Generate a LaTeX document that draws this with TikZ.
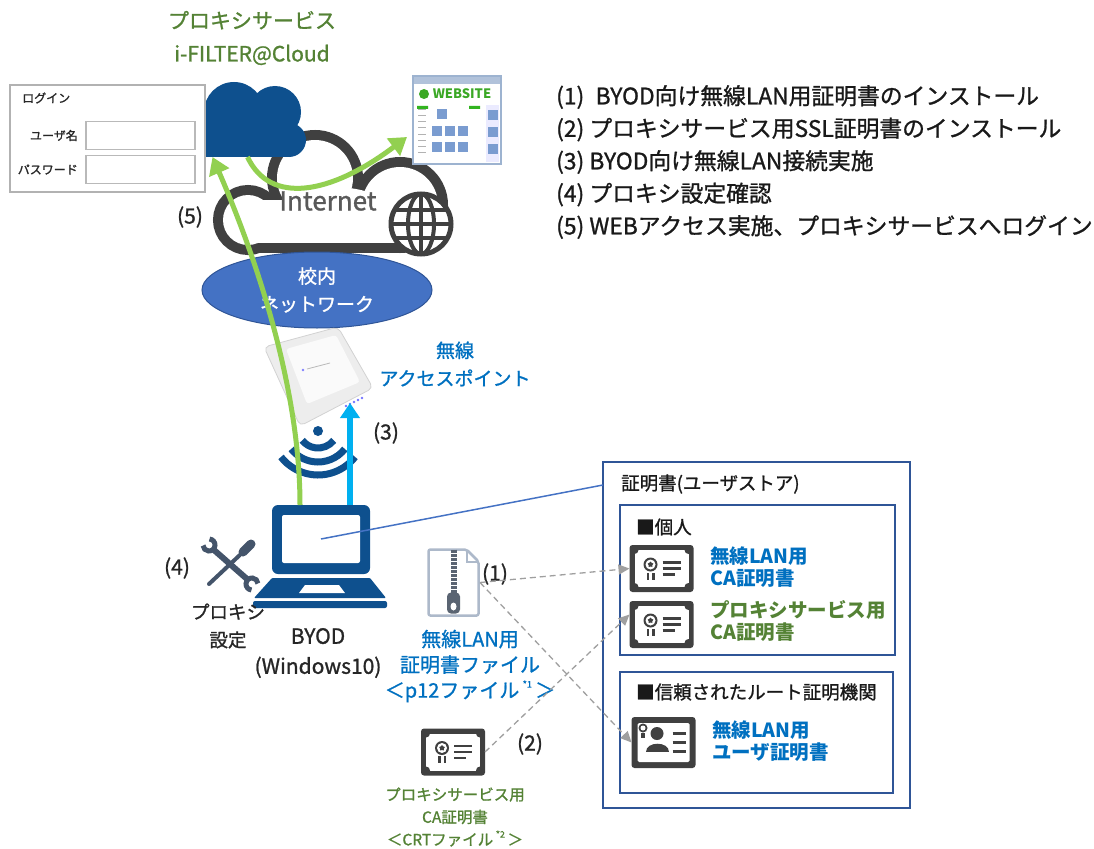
\documentclass[tikz,border=0pt]{standalone}
\usepackage{fontspec}
\setmainfont{Noto Sans CJK JP}[UprightFeatures={FakeBold=1.1}]
\usetikzlibrary{positioning,arrows.meta,shapes.geometric}

\definecolor{txtgreen}{RGB}{84,130,53}
\definecolor{txtblue}{RGB}{0,112,192}
\definecolor{flowgreen}{RGB}{146,208,80}
\definecolor{flowcyan}{RGB}{0,176,240}
\definecolor{iconblue}{RGB}{14,80,142}
\definecolor{netblue}{RGB}{68,114,196}
\definecolor{frameblue}{RGB}{47,85,151}
\definecolor{certgray}{RGB}{64,64,64}
\definecolor{cloudgray}{RGB}{64,64,64}
\definecolor{toolgray}{RGB}{68,84,106}
\definecolor{zipline}{RGB}{173,185,202}
\definecolor{zipdark}{RGB}{90,100,114}
\definecolor{webframe}{RGB}{157,179,208}
\definecolor{webtile}{RGB}{122,156,208}

\newcommand{\fs}[2]{\fontsize{#1}{#2}\selectfont}
\newcommand{\noteref}[1]{\raisebox{0.5em}{\fs{9}{9}#1}}

\tikzset{
  lbl/.style={inner sep=0pt, align=center, text=black!85, font=\fs{21}{28}},
  bluelbl/.style={lbl, text=txtblue},
  greenlbl/.style={lbl, text=txtgreen},
  storelbl/.style={inner sep=0pt, align=left, anchor=west, font=\bfseries\fs{19.5}{22}},
  storettl/.style={inner sep=0pt, anchor=west, text=black!90, font=\fs{18.5}{22}},
  iconslot/.style={inner sep=0pt, outer sep=0pt},
  storebox/.style={draw=frameblue, line width=1.8pt, iconslot},
  inputbox/.style={draw=gray!55, line width=1.4pt, iconslot, minimum width=109pt, minimum height=28pt},
  greenflow/.style={draw=flowgreen, line width=5pt, -{Triangle[length=17pt,width=21pt]}},
  wififlow/.style={draw=flowcyan, line width=6pt, -{Triangle[length=15pt,width=19pt]}},
  dasharrow/.style={draw=gray!75, line width=1.3pt, dash pattern=on 6pt off 4pt, -{Triangle[length=11pt,width=10pt]}},
  linkline/.style={draw=netblue, line width=1.5pt},
  % certificate with medal and text lines
  certicon/.pic={
    \fill[certgray, rounded corners=3pt] (-32,-23.5) rectangle (32,23.5);
    \fill[white] (-27,-18.5) rectangle (27,18.5);
    \foreach \sx/\sy in {-27/-18.5,27/-18.5,-27/18.5,27/18.5}
      \fill[certgray] (\sx,\sy) circle (4);
    \fill[certgray] (-11,-4) circle (7);
    \fill[white] (-11,-4) circle (5);
    \node[star, star points=5, fill=certgray, minimum size=6pt, inner sep=0pt] at (-11,-4) {};
    \fill[certgray] (-15,4) rectangle (-12.5,11);
    \fill[certgray] (-9.5,4) rectangle (-7,11);
    \draw[certgray, line width=2.5pt] (1,-6) -- (19,-6) (1,0) -- (19,0) (1,6) -- (13,6);
  },
  % certificate with a person
  usercerticon/.pic={
    \fill[certgray, rounded corners=3pt] (-32,-25.5) rectangle (32,25.5);
    \fill[white, rounded corners=1.5pt] (-26,-19.5) rectangle (26,19.5);
    \fill[certgray] (-20.5,-14.5) circle (4.5);
    \fill[white] (-20.5,-14.5) circle (2.5);
    \fill[certgray] (-22.5,-10) rectangle (-18.5,-5);
    \fill[certgray] (-6.5,-9) circle (6.5);
    \fill[certgray] (-18,9) .. controls (-18,-2) and (5,-2) .. (5,9) -- cycle;
    \draw[certgray, line width=2.5pt] (9,-9) -- (22,-9) (9,0) -- (22,0) (9,9) -- (22,9);
  },
  % zipped document
  zipicon/.pic={
    \draw[zipline, line width=2.5pt, rounded corners=2pt] (-25,-33) -- (13,-33) -- (25,-21) -- (25,33) -- (-25,33) -- cycle;
    \draw[zipline, line width=2pt] (13,-33) -- (13,-21) -- (25,-21);
    \draw[zipdark, line width=6pt] (0,-33) -- (0,12);
    \foreach \zy in {-29,-25,...,7}
      \draw[white, line width=1.2pt] (-3,\zy) -- (3,\zy);
    \fill[zipdark, rounded corners=4pt] (-6.5,10) rectangle (6.5,31);
    \fill[white] (0,24) ellipse (3 and 4);
  },
}

\begin{document}
\begin{tikzpicture}[x=1pt, y=-1pt]
\useasboundingbox (0,0) rectangle (1094,848);

% internet cloud: thick outline from overlapping circles
\foreach \cx/\cy/\r in {248/220/25, 315/178/38, 400/205/38}
  \draw[cloudgray, line width=20pt] (\cx,\cy) circle (\r);
\draw[cloudgray, line width=10pt] (248,248) -- (400,248);
\foreach \cx/\cy/\r in {248/220/25, 315/178/38, 400/205/38}
  \fill[white] (\cx,\cy) circle (\r);
\fill[white] (248,200) rectangle (400,243);
\fill[white] (332,205) ellipse (52 and 18);
\node[lbl, text=black!65, font=\fs{26}{28}] (inet) at (328,201) {Internet};

% globe
\begin{scope}
  \fill[white] (421,224) circle (30);
  \clip (421,224) circle (30);
  \draw[cloudgray, line width=4pt] (421,224) ellipse (13 and 30);
  \draw[cloudgray, line width=4pt] (421,194) -- (421,254);
  \foreach \dy in {-14,0,14}
    \draw[cloudgray, line width=4pt] (391,224+\dy) -- (451,224+\dy);
\end{scope}
\draw[cloudgray, line width=5pt] (421,224) circle (30);

% proxy service cloud
\node[iconslot, minimum width=101pt, minimum height=75pt] (cloudsvc) at (255.5,119.5) {};
\foreach \cx/\cy/\r in {234/112/30, 275/112/26, 289/140/17}
  \fill[iconblue] (\cx,\cy) circle (\r);
\fill[iconblue] (205,112) rectangle (289,157);
\node[greenlbl, font=\fs{21}{33}] (svcname) at (252,38) {プロキシサービス\\i-FILTER@Cloud};

% login dialog
\node[iconslot, draw=gray!60, line width=1.5pt, fill=white, minimum width=195pt, minimum height=107pt] (login) at (107.5,138.5) {};
\node[lbl, font=\fs{12}{13}, anchor=west] (loginttl) at (22,98) {ログイン};
\node[inputbox] (userbox) at (140.5,135.5) {};
\node[inputbox] (passbox) at (140.5,169.5) {};
\node[lbl, font=\fs{12}{13}, anchor=east] (userlbl) at (78,135.5) {ユーザ名};
\node[lbl, font=\fs{12}{13}, anchor=east] (passlbl) at (78,169.5) {パスワード};

% website
\node[iconslot, draw=webframe, line width=2pt, fill=white, minimum width=88pt, minimum height=88pt] (web) at (457,120) {};
\fill[webframe!80] (414,77) rectangle (500,84);
\fill[blue!8] (486,105) rectangle (499,162);
\fill[txtgreen!70!green] (424,94) circle (5);
\node[inner sep=0pt, text=txtgreen!70!green, font=\bfseries\fs{13}{13}] (webtitle) at (462,94) {WEBSITE};
\foreach \tx/\ty in {437/109, 432/126, 445/126, 458/126, 432/142, 445/142, 458/142, 488/110, 488/127, 488/144}
  \fill[webtile] (\tx,\ty) rectangle ++(10,10);
\foreach \ty in {110,116,122,128,134,140,146,152}
  \draw[gray!60, line width=1pt] (418,\ty) -- (426,\ty);
\fill[txtgreen!60!green] (417,106) rectangle (428,109) (469,106) rectangle (480,109);

% campus network
\node[ellipse, fill=netblue, draw=frameblue, line width=1pt, minimum width=230pt, minimum height=76pt,
  text=white, align=center, font=\fs{19}{28}, inner sep=0pt] (net) at (317,290) {校内\\ネットワーク};

% access point
\node[iconslot, minimum width=108pt, minimum height=98pt] (ap) at (318,376) {};
\fill[gray!14, rounded corners=5pt] (264,347) -- (338,327) -- (373,388) -- (300,426) -- cycle;
\draw[gray!35, line width=0.8pt, rounded corners=5pt] (264,347) -- (338,327) -- (373,388) -- (300,426) -- cycle;
\fill[gray!4, rounded corners=3pt] (286,349) -- (336,335) -- (360,382) -- (307,404) -- cycle;
\fill[blue!50] (303,370) circle (1.3);
\draw[gray!55, line width=0.8pt] (307,369) -- (330,363);
\foreach \i in {0,...,4}
  \fill[blue!55] (362-4*\i,398+2*\i) circle (1.3);
\node[bluelbl, font=\fs{19}{28}] (aplbl) at (455,364) {無線\\アクセスポイント};

% laptop
\node[iconslot, minimum width=134pt, minimum height=103pt] (laptop) at (320,556.5) {};
\fill[iconblue, rounded corners=6pt] (272,505) rectangle (370,574);
\node[iconslot, fill=white, rounded corners=2pt, minimum width=78pt, minimum height=48pt] (screen) at (321,539) {};
\fill[iconblue, rounded corners=1pt] (272,578) -- (370,578) -- (386,598) -- (254,598) -- cycle;
\fill[white] (305,585) -- (339,585) -- (345,593) -- (299,593) -- cycle;
\fill[iconblue, rounded corners=2pt] (253,601) rectangle (387,608);
\node[lbl, font=\fs{21}{30}] (byod) at (318,653) {BYOD\\(Windows10)};

% wireless signal
\fill[iconblue] (318,431) circle (5);
\foreach \r in {20,34,47}
  \draw[iconblue, line width=7pt] (318,428) ++(38:\r) arc (38:142:\r);

% tools
\draw[toolgray, line width=6pt, line cap=round] (214,550) -- (247,579);
\draw[toolgray, line width=5pt] (209,545) ++(275:6) arc (275:535:6);
\draw[toolgray, line width=5pt] (252,584) ++(95:6) arc (95:355:6);
\draw[toolgray, line width=4pt, line cap=round] (242,553) -- (209,584);
\draw[toolgray, line width=9pt, line cap=round] (251,544) -- (243,552);
\node[lbl] (n4) at (177,568) {(4)};
\node[lbl, font=\fs{18.5}{28}] (proxyset) at (228,626) {プロキシ\\設定};

% flows
\draw[greenflow] ([xshift=-20pt]laptop.north) .. controls (300,390) and (258,262) .. ([xshift=-43pt]cloudsvc.south);
\draw[greenflow] ([xshift=-8pt]cloudsvc.south) .. controls (270,205) and (330,195) .. ([shift={(-6pt,-17pt)}]web.west);
\coordinate (aplink) at (350,403);
\draw[wififlow] ([xshift=30pt]laptop.north) -- (aplink);
\node[lbl] (n5) at (190,217) {(5)};
\node[lbl] (n3) at (386,433) {(3)};

% certificate files
\node[iconslot, minimum width=53pt, minimum height=69pt] (p12file) at (453.5,582.5) {};
\pic at (p12file) {zipicon};
\node[lbl] (n1) at (495,574) {(1)};
\node[bluelbl, font=\fs{20}{25.5}] (p12lbl) at (470,666) {無線LAN用\\証明書ファイル\\＜p12ファイル\,\noteref{*1}\,＞};
\node[iconslot, minimum width=64pt, minimum height=47pt] (crtfile) at (453,752) {};
\pic at (crtfile) {certicon};
\node[lbl] (n2) at (530,744) {(2)};
\node[greenlbl, font=\fs{15.5}{22.5}] (crtlbl) at (455,817) {プロキシサービス用\\CA証明書\\＜CRTファイル\,\noteref{*2}\,＞};

% user certificate store
\node[storebox, minimum width=307pt, minimum height=346pt] (store) at (756.5,635) {};
\node[storettl] (storename) at (621,484) {証明書(ユーザストア)};
\node[storebox, minimum width=275pt, minimum height=150pt] (personal) at (757.5,580) {};
\node[storettl] (personalttl) at (636,527) {■個人};
\node[storebox, minimum width=273pt, minimum height=121pt] (rootca) at (756.5,732.5) {};
\node[storettl] (rootcattl) at (636,692) {■信頼されたルート証明機関};

\node[iconslot, minimum width=64pt, minimum height=47pt] (wlanca) at (661.5,568.5) {};
\pic at (wlanca) {certicon};
\node[storelbl, text=txtblue] (wlancalbl) at (710,567) {無線LAN用\\CA証明書};
\node[iconslot, minimum width=64pt, minimum height=47pt] (proxyca) at (661.5,624.5) {};
\pic at (proxyca) {certicon};
\node[storelbl, text=txtgreen] (proxycalbl) at (710,621) {プロキシサービス用\\CA証明書};
\node[iconslot, minimum width=64pt, minimum height=51pt] (wlanuser) at (663.5,742.5) {};
\pic at (wlanuser) {usercerticon};
\node[storelbl, text=txtblue] (wlanuserlbl) at (712,741) {無線LAN用\\ユーザ証明書};

% installs
\draw[dasharrow] (p12file.east) -- (wlanca.west);
\draw[dasharrow] (p12file.east) -- (wlanuser.west);
\draw[dasharrow] (crtfile.east) -- ([yshift=10pt]proxyca.west);
\coordinate (storetab) at (603,485);
\draw[linkline] (screen.center) -- (storetab);

% steps
\node[inner sep=0pt, anchor=west, align=left, text=black!90, font=\fs{22.8}{32.5}] (steps) at (556,162)
  {(1)\hspace{0.5em}BYOD向け無線LAN用証明書のインストール\\
   (2) プロキシサービス用SSL証明書のインストール\\
   (3) BYOD向け無線LAN接続実施\\
   (4) プロキシ設定確認\\
   (5) WEBアクセス実施、プロキシサービスへログイン};
\end{tikzpicture}
\end{document}
